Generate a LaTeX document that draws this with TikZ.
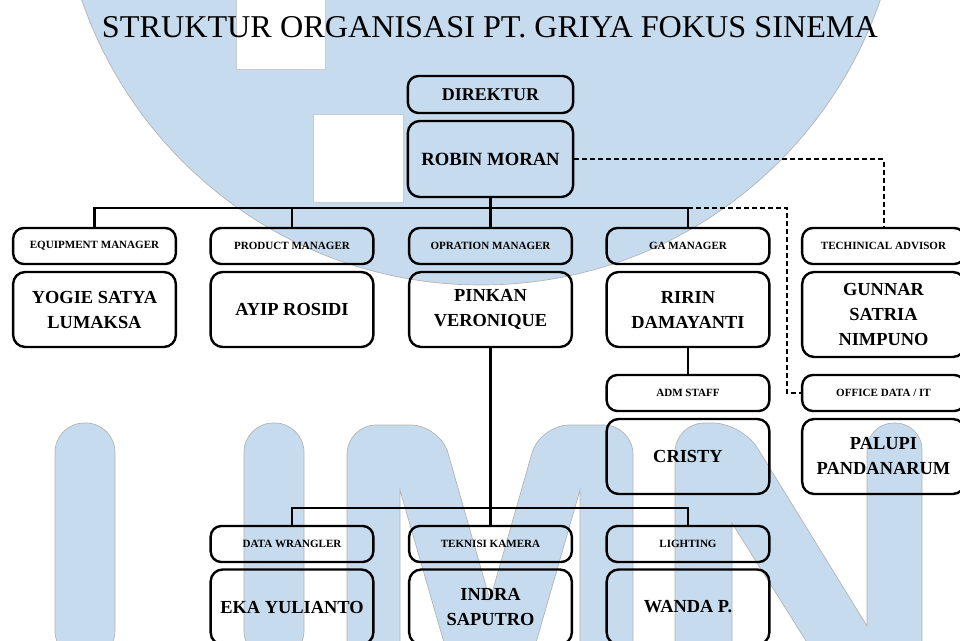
\documentclass[tikz,border=0pt]{standalone}
\usepackage{fontspec}
\setmainfont{Liberation Serif}
\usepackage{graphicx}
\usepackage{xcolor}
\usepackage{tikz}
\definecolor{umnblue}{RGB}{199,219,238}
\tikzstyle{jabatan}=[draw,rounded corners=8pt,line width=1.8pt,minimum width=122pt,minimum height=27pt,inner sep=0pt,font=\bfseries\fontsize{8.3}{10}\selectfont]
\tikzstyle{nama}=[draw,rounded corners=9pt,line width=1.8pt,minimum width=122pt,minimum height=56.25pt,inner sep=0pt,align=center,font=\bfseries\fontsize{13.8}{18.75}\selectfont]
\tikzstyle{solidline}=[line width=1.7pt]
\tikzstyle{dashline}=[line width=1.5pt,dash pattern=on 3.75pt off 2.25pt]
\tikzstyle{logo}=[fill=umnblue,draw=black!30,line width=0.5pt]

\begin{document}
\begin{tikzpicture}[x=0.75pt,y=-0.75pt]
        \useasboundingbox (0,0) rectangle (960,641);
        \clip (0,0) rectangle (960,641);

        % watermark
        \path [logo] (481,-137) circle [radius=316.5pt];
        \path [logo,fill=white,draw=black!20] (236,-2) rectangle (325,69);
        \path [logo,fill=white,draw=black!20] (313,114) rectangle (403,202);
        \path [logo,rounded corners=22pt] (55,660) -- (55,423) -- (115,423) -- (115,660) -- cycle;
        \path [logo,rounded corners=22pt] (244,660) -- (244,423) -- (304,423) -- (304,660) -- cycle;
        \path [logo] (347,660) [rounded corners=22pt] -- (347,425) -- (440,425) [sharp corners] -- (490,600)
              [rounded corners=22pt] -- (540,425) -- (633,425) [sharp corners] -- (633,660) -- (580,660)
              -- (580,490) -- (531,660) -- (449,660) -- (400,490) -- (400,660) -- cycle;
        \path [logo] (675,660) [rounded corners=22pt] -- (675,423) -- (742,423) [sharp corners] -- (867,626)
              [rounded corners=20pt] -- (867,423) -- (922,423) [sharp corners] -- (922,660) -- (818,660)
              -- (732,523) -- (732,660) -- cycle;

        \node at (490,27.5) [inner sep=0pt] (judul)
              {\resizebox{582pt}{\height}{\fontsize{23.8}{28}\selectfont STRUKTUR ORGANISASI PT. GRIYA FOKUS SINEMA}};

        \node at (490.5,94.5) [jabatan,minimum width=124pt,minimum height=27.75pt,font=\bfseries\fontsize{13.5}{16}\selectfont] (dir) {DIREKTUR};
        \node at (490.5,159) [nama,minimum width=124pt,minimum height=57pt,font=\bfseries\fontsize{14}{18.75}\selectfont] (robin) {ROBIN MORAN};

        \node at (94.5,246)  [jabatan] (eqt)   {EQUIPMENT MANAGER};
        \node at (292,246)   [jabatan] (prodt) {PRODUCT MANAGER};
        \node at (490.5,246) [jabatan] (oprt)  {OPRATION MANAGER};
        \node at (688,246)   [jabatan] (gat)   {GA MANAGER};
        \node at (883.5,246) [jabatan] (techt) {TECHINICAL ADVISOR};

        \node at (94.5,309.5)  [nama] (eqn)   {YOGIE SATYA\\LUMAKSA};
        \node at (292,309.5)   [nama] (prodn) {AYIP ROSIDI};
        \node at (490.5,309.5) [nama] (oprn)  {PINKAN\\VERONIQUE};
        \node at (688,309.5)   [nama] (gan)   {RIRIN\\DAMAYANTI};
        \node at (883.5,314.5) [nama,minimum height=63.75pt] (techn) {GUNNAR\\SATRIA\\NIMPUNO};

        \node at (688,393)     [jabatan] (adm)    {ADM STAFF};
        \node at (883.5,393)   [jabatan] (office) {OFFICE DATA / IT};
        \node at (688,456.5)   [nama] (cristy) {CRISTY};
        \node at (883.5,456.5) [nama] (palupi) {PALUPI\\PANDANARUM};

        \node at (292,544)   [jabatan] (dwt) {DATA WRANGLER};
        \node at (490.5,544) [jabatan] (tkt) {TEKNISI KAMERA};
        \node at (688,544)   [jabatan] (ltt) {LIGHTING};
        \node at (292,607)   [nama] (dwn) {EKA YULIANTO};
        \node at (490.5,607) [nama] (tkn) {INDRA\\SAPUTRO};
        \node at (688,607)   [nama] (ltn) {WANDA P.};

        \coordinate (topbus) at (490.5,208);
        \coordinate (lowbus) at (490.5,508);
        \coordinate (dashturn) at (787,393);

        \draw [solidline] (robin) -- (topbus);
        \draw [solidline] (eqt) |- (topbus) -| (gat);
        \draw [solidline] (prodt) -- (prodt |- topbus);
        \draw [solidline] (oprt) -- (topbus);
        \draw [dashline] (robin) -| (techt);
        \draw [dashline] (gat |- topbus) -| (dashturn) -- (office);
        \draw [solidline] (gan) -- (adm);
        \draw [solidline] (oprn) -- (tkt);
        \draw [solidline] (dwt) |- (lowbus) -| (ltt);
      \end{tikzpicture}
\end{document}
